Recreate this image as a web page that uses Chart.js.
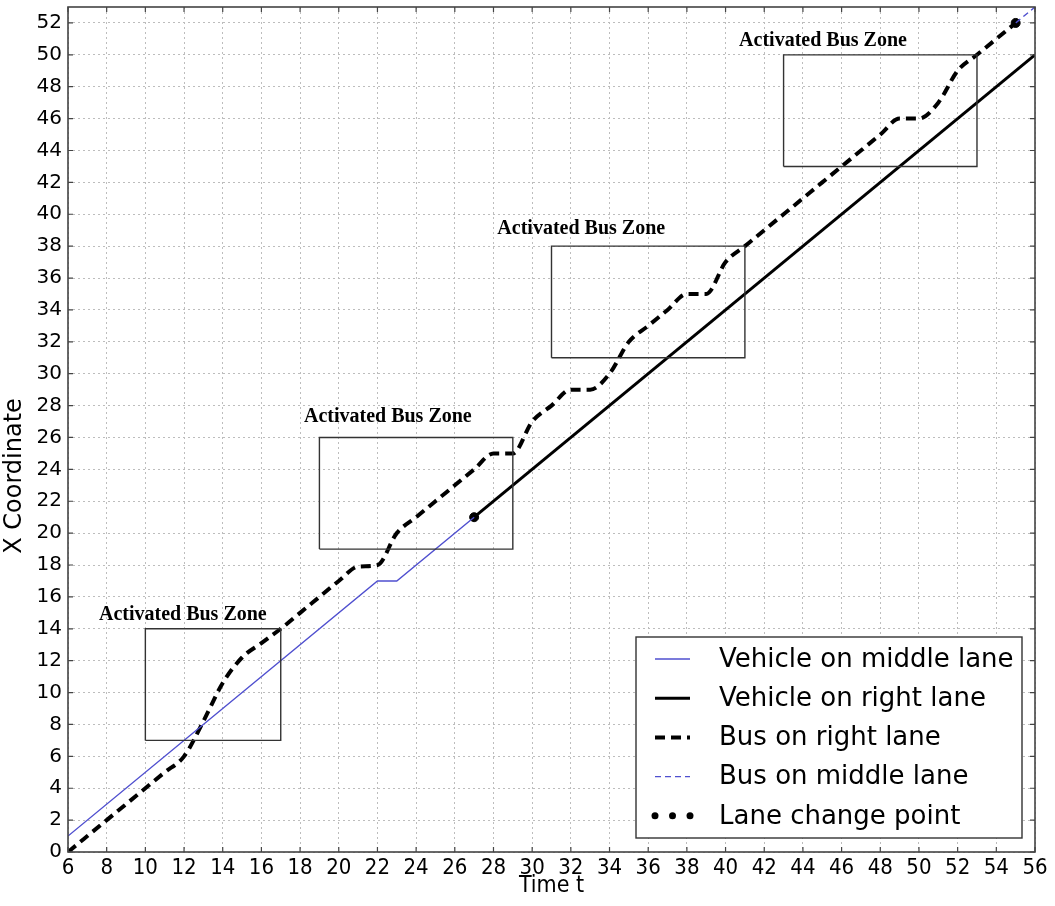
<!DOCTYPE html>
<html>
<head>
<meta charset="utf-8">
<script src="https://cdn.jsdelivr.net/npm/chart.js@4.4.0/dist/chart.umd.min.js"></script>
<style>
  html, body { margin: 0; padding: 0; background: #fff; }
  #wrap { width: 1055px; height: 906px; position: relative; }
</style>
</head>
<body>
<div id="wrap"><canvas id="chart"></canvas></div>
<script>
// --- Data ---
const vehMidT = [6, 22, 23, 27];
const vehMidX = [1, 17, 17, 21];

const vehRightT = [27, 56];
const vehRightX = [21, 50];

const busRightT = [6, 7, 8, 9, 10, 11, 12, 13, 14, 15, 16, 17, 18, 19, 20, 21, 22, 23, 24, 25, 26, 27, 28, 29, 30,
  31, 32, 33, 34, 35, 36, 37, 38, 39, 40, 41, 42, 43, 44, 45, 46, 47, 48, 49, 50, 51, 52, 53, 54, 55];
const busRightX = [0, 1, 2, 3, 4, 5, 6, 8.2, 10.6, 12.2, 13.1, 14, 15, 16, 17, 17.9, 18, 20, 21, 22, 23, 24, 25, 25, 27,
  28, 29, 29, 30, 32, 33, 34, 35, 35, 37, 38, 39, 40, 41, 42, 43, 44, 45, 46, 46, 47, 49, 50, 51, 52];

const busMidT = [55, 56];
const busMidX = [52, 53];

const laneChangeT = [27, 55];
const laneChangeX = [21, 52];

// activated bus zones: [t0, t1, x0, x1]
const zones = [
  [10, 17, 7, 14],
  [19, 29, 19, 26],
  [31, 41, 31, 38],
  [43, 53, 43, 50]
];
// label anchor (left t, centre x) for each zone
const zoneLabelT = [7.6, 18.2, 28.2, 40.7];
const zoneLabelX = [14.9, 27.3, 39.1, 50.9];
const zoneLabel = 'Activated Bus Zone';

const legendLabels = ['Vehicle on middle lane', 'Vehicle on right lane', 'Bus on right lane', 'Bus on middle lane', 'Lane change point'];

const BLUE = '#4f4fcf';
const SANS = "'DejaVu Sans', 'Noto Sans', sans-serif";
const NARROW = "'DejaVu Sans Condensed', 'Liberation Sans Narrow', 'DejaVu Sans', sans-serif";

const pts = (ts, xs) => ts.map((t, i) => ({ x: t, y: xs[i] }));
const boxPts = z => [
  { x: z[0], y: z[2] }, { x: z[1], y: z[2] }, { x: z[1], y: z[3] }, { x: z[0], y: z[3] }, { x: z[0], y: z[2] }
];

const zoneSets = zones.map(z => ({
  label: 'zone',
  data: boxPts(z),
  borderColor: '#333',
  borderWidth: 1.4,
  pointRadius: 0,
  tension: 0,
  fill: false
}));

// --- Plugin: frame, inner ticks, zone labels, y title, legend ---
const extras = {
  id: 'extras',
  afterDatasetsDraw(chart) {
    const { ctx, chartArea: a, scales } = chart;
    const xs = scales.x, ys = scales.y;

    // zone labels
    ctx.save();
    ctx.font = "bold 20px 'Liberation Serif', 'DejaVu Serif', serif";
    ctx.fillStyle = '#000';
    ctx.textBaseline = 'middle';
    ctx.textAlign = 'left';
    zoneLabelT.forEach((t, i) => {
      ctx.fillText(zoneLabel, xs.getPixelForValue(t), ys.getPixelForValue(zoneLabelX[i]));
    });
    ctx.restore();

    // y axis title (sits a little below the centre in the reference)
    ctx.save();
    ctx.translate(15, 476);
    ctx.rotate(-Math.PI / 2);
    ctx.font = '24px ' + SANS;
    ctx.fillStyle = '#000';
    ctx.textAlign = 'center';
    ctx.textBaseline = 'middle';
    ctx.fillText('X Coordinate', 0, 0);
    ctx.restore();

    // frame + inner ticks
    ctx.save();
    ctx.strokeStyle = '#444';
    ctx.lineWidth = 1.2;
    xs.ticks.forEach(tk => {
      const px = xs.getPixelForValue(tk.value);
      ctx.beginPath();
      ctx.moveTo(px, a.bottom); ctx.lineTo(px, a.bottom - 5);
      ctx.moveTo(px, a.top); ctx.lineTo(px, a.top + 5);
      ctx.stroke();
    });
    ys.ticks.forEach(tk => {
      const py = ys.getPixelForValue(tk.value);
      ctx.beginPath();
      ctx.moveTo(a.left, py); ctx.lineTo(a.left + 5, py);
      ctx.moveTo(a.right, py); ctx.lineTo(a.right - 5, py);
      ctx.stroke();
    });
    ctx.lineWidth = 1.6;
    ctx.strokeRect(a.left, a.top, a.right - a.left, a.bottom - a.top);
    ctx.restore();

    // legend box
    const lx = a.right - 399, ly = a.bottom - 215, lw = 386, lh = 201;
    ctx.save();
    ctx.fillStyle = '#fff';
    ctx.fillRect(lx, ly, lw, lh);
    ctx.strokeStyle = '#333';
    ctx.lineWidth = 1.4;
    ctx.strokeRect(lx, ly, lw, lh);
    ctx.font = '26px ' + SANS;
    ctx.textBaseline = 'middle';
    ctx.fillStyle = '#000';
    const sx0 = lx + 19, sx1 = lx + 54;
    legendLabels.forEach((lab, i) => {
      const y = ly + 22 + i * 39.2;
      const ds = chart.data.datasets[zoneSets.length + i];
      ctx.save();
      if (i === 4) {
        ctx.fillStyle = '#000';
        [sx0, (sx0 + sx1) / 2, sx1].forEach(px => {
          ctx.beginPath(); ctx.arc(px, y, 3.5, 0, Math.PI * 2); ctx.fill();
        });
      } else {
        ctx.strokeStyle = ds.borderColor;
        ctx.lineWidth = ds.borderWidth;
        ctx.setLineDash(ds.borderDash || []);
        ctx.beginPath(); ctx.moveTo(sx0, y); ctx.lineTo(sx1, y); ctx.stroke();
      }
      ctx.restore();
      ctx.fillText(lab, lx + 83, y + 1);
    });
    ctx.restore();
  }
};

new Chart(document.getElementById('chart'), {
  type: 'line',
  data: {
    datasets: [
      ...zoneSets,
      {
        label: legendLabels[0],
        data: pts(vehMidT, vehMidX),
        borderColor: BLUE, borderWidth: 1.4, pointRadius: 0, tension: 0
      },
      {
        label: legendLabels[1],
        data: pts(vehRightT, vehRightX),
        borderColor: '#000', borderWidth: 3, pointRadius: 0, tension: 0
      },
      {
        label: legendLabels[2],
        data: pts(busRightT, busRightX),
        borderColor: '#000', borderWidth: 4, borderDash: [10, 6], pointRadius: 0,
        cubicInterpolationMode: 'monotone'
      },
      {
        label: legendLabels[3],
        data: pts(busMidT, busMidX),
        borderColor: BLUE, borderWidth: 1.4, borderDash: [6, 4], pointRadius: 0, tension: 0
      },
      {
        label: legendLabels[4],
        data: pts(laneChangeT, laneChangeX),
        showLine: false, pointRadius: 4.5, pointBackgroundColor: '#000', pointBorderColor: '#000'
      }
    ]
  },
  options: {
    responsive: true,
    maintainAspectRatio: false,
    animation: false,
    events: [],
    layout: { padding: { top: 7, right: 20, left: 0, bottom: 0 } },
    plugins: { legend: { display: false }, tooltip: { enabled: false } },
    scales: {
      x: {
        type: 'linear',
        min: 6, max: 56,
        afterFit: s => { s.height = 54; s.paddingLeft = 0; s.paddingRight = 0; },
        ticks: { stepSize: 2, color: '#000', padding: 3, font: { family: NARROW, size: 22 }, maxRotation: 0 },
        grid: { color: '#bdbdbd', lineWidth: 1, drawTicks: false },
        border: { display: false, dash: [2, 3] },
        title: { display: true, text: 'Time t', color: '#000', font: { family: NARROW, size: 23 }, padding: { top: 0, bottom: 6 } }
      },
      y: {
        min: 0, max: 53,
        afterFit: s => { s.width = 68; s.paddingTop = 0; s.paddingBottom = 0; },
        afterBuildTicks: s => { s.ticks = s.ticks.filter(t => t.value % 2 === 0); },
        ticks: { stepSize: 2, includeBounds: false, color: '#000', padding: 6, font: { family: SANS, size: 20 } },
        grid: { color: '#bdbdbd', lineWidth: 1, drawTicks: false },
        border: { display: false, dash: [2, 3] },
        title: { display: false }
      }
    }
  },
  plugins: [extras]
});
</script>
</body>
</html>
